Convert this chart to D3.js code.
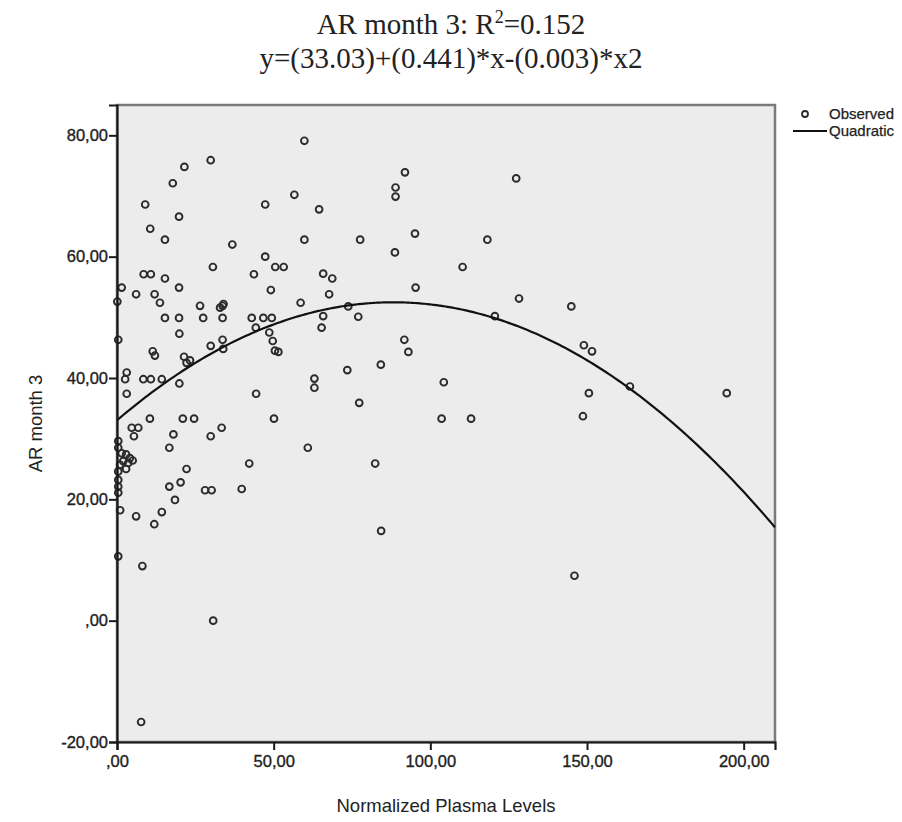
<!DOCTYPE html>
<html>
<head>
<meta charset="utf-8">
<script src="https://cdn.jsdelivr.net/npm/d3@7"></script>
<style>
  html, body { margin: 0; padding: 0; background: #ffffff; }
  svg { display: block; }
</style>
</head>
<body>
<svg id="chart" width="902" height="822"></svg>
<script>
// ---- data ----
const plasmaLevels = [
  59.8, 29.9, 21.5, 17.8, 9.0, 47.3, 56.6, 19.8, 10.6, 15.3,
  59.8, 36.8, 47.3, 30.6, 50.5, 53.2, 8.5, 10.8, 43.7, 15.3,
  1.5, 19.8, 49.1, 6.1, 12.0, 13.7, 0.1, 26.5, 32.9, 33.7,
  34.0, 58.6, 15.3, 19.8, 27.5, 33.7, 43.0, 46.7, 49.4, 44.3,
  48.6, 49.7, 50.4, 51.5, 19.9, 0.4, 33.7, 33.9, 29.9, 11.4,
  12.1, 21.4, 22.2, 23.3, 3.1, 2.6, 8.4, 10.8, 14.3, 19.9,
  44.4, 3.1, 10.5, 21.0, 24.6, 50.1, 4.7, 6.8, 5.4, 33.4,
  18.0, 29.9, 16.7, 60.9, 0.4, 0.4, 1.5, 2.9, 4.1, 5.0,
  2.0, 3.6, 1.0, 2.9, 0.4, 0.4, 0.4, 0.4, 22.2, 42.2,
  16.7, 20.3, 28.1, 30.2, 39.8, 18.5, 1.0, 6.1, 14.3, 11.9,
  0.4, 8.1, 30.7, 7.7, 91.9, 88.9, 88.9, 64.5, 77.6, 95.1,
  118.2, 88.7, 110.3, 65.8, 68.7, 67.7, 95.3, 73.8, 65.8, 77.0,
  120.6, 65.3, 91.7, 93.0, 84.2, 73.5, 63.0, 63.0, 104.3, 77.3,
  103.6, 113.0, 82.4, 84.3, 127.4, 128.3, 145.0, 149.0, 151.6, 163.7,
  150.6, 194.6, 148.7, 146.0
];
const arMonth3 = [
  79.1, 75.9, 74.8, 72.1, 68.6, 68.6, 70.2, 66.6, 64.6, 62.8,
  62.8, 62.0, 60.0, 58.3, 58.3, 58.3, 57.1, 57.1, 57.1, 56.4,
  54.9, 54.9, 54.5, 53.8, 53.8, 52.4, 52.6, 51.9, 51.6, 51.9,
  52.2, 52.4, 49.9, 49.9, 49.9, 49.9, 49.9, 49.9, 49.9, 48.3,
  47.5, 46.1, 44.5, 44.3, 47.3, 46.3, 46.3, 44.8, 45.3, 44.4,
  43.7, 43.5, 42.5, 42.9, 40.9, 39.8, 39.8, 39.8, 39.8, 39.1,
  37.4, 37.4, 33.3, 33.3, 33.3, 33.3, 31.8, 31.8, 30.4, 31.8,
  30.7, 30.4, 28.5, 28.5, 29.6, 28.5, 27.6, 27.4, 26.8, 26.4,
  26.3, 26.0, 25.7, 25.0, 24.6, 23.2, 22.1, 21.1, 25.0, 25.9,
  22.1, 22.8, 21.5, 21.5, 21.7, 19.9, 18.2, 17.2, 17.9, 15.9,
  10.6, 9.0, 0.0, -16.7, 73.9, 71.4, 69.9, 67.8, 62.8, 63.8,
  62.8, 60.7, 58.3, 57.2, 56.4, 53.8, 54.9, 51.8, 50.2, 50.1,
  50.2, 48.3, 46.3, 44.3, 42.2, 41.3, 39.9, 38.4, 39.3, 35.9,
  33.3, 33.3, 25.9, 14.8, 72.9, 53.1, 51.8, 45.4, 44.4, 38.6,
  37.5, 37.5, 33.7, 7.4
];
// quadratic fit: y = b0 + b1*x + b2*x^2
const quadraticCoefficients = [33.03, 0.441, -0.0025];

const xTicks = [0, 50, 100, 150, 200];
const xTickLabels = [",00", "50,00", "100,00", "150,00", "200,00"];
const yTicks = [-20, 0, 20, 40, 60, 80];
const yTickLabels = ["-20,00", ",00", "20,00", "40,00", "60,00", "80,00"];

const titleLines = ["AR month 3: R", "y=(33.03)+(0.441)*x-(0.003)*x2"];
const xTitle = "Normalized Plasma Levels";
const yTitle = "AR month 3";
const legendLabels = ["Observed", "Quadratic"];

// ---- layout ----
const L = 117, R = 775, T = 105, B = 742;
const svg = d3.select("#chart");
const x = d3.scaleLinear().domain([0, 210]).range([L, R]);
const y = d3.scaleLinear().domain([-20, 85]).range([B, T]);
const sans = "'Liberation Sans', Arial, sans-serif";

// plot background & frame
svg.append("rect")
  .attr("x", L).attr("y", T).attr("width", R - L).attr("height", B - T)
  .attr("fill", "#ececec").attr("stroke", "#7a7a7a").attr("stroke-width", 2.5);

// points
const pts = plasmaLevels.map((v, i) => [v, arMonth3[i]]);
svg.append("g").selectAll("circle").data(pts).join("circle")
  .attr("cx", d => x(d[0])).attr("cy", d => y(d[1])).attr("r", 3.4)
  .attr("fill", "none").attr("stroke", "#2b2b2b").attr("stroke-width", 1.9);

// quadratic curve
const [b0, b1, b2] = quadraticCoefficients;
const xs = d3.range(0, 210.001, 1);
const line = d3.line().x(d => x(d)).y(d => y(b0 + b1 * d + b2 * d * d)).curve(d3.curveMonotoneX);
svg.append("path").datum(xs).attr("d", line)
  .attr("fill", "none").attr("stroke", "#111").attr("stroke-width", 2.2);

// axes
const xAxis = d3.axisBottom(x).tickValues(xTicks).tickFormat((d, i) => xTickLabels[i])
  .tickSizeOuter(0).tickSize(8).tickPadding(5);
const gx = svg.append("g").attr("transform", `translate(0,${B})`).call(xAxis);
const yAxis = d3.axisLeft(y).tickValues(yTicks).tickFormat((d, i) => yTickLabels[i])
  .tickSizeOuter(0).tickSize(8).tickPadding(1);
const gy = svg.append("g").attr("transform", `translate(${L},0)`).call(yAxis);
[gx, gy].forEach(g => {
  g.select(".domain").attr("stroke", "#1a1a1a").attr("stroke-width", 2.2);
  g.selectAll(".tick line").attr("stroke", "#1a1a1a").attr("stroke-width", 2);
  g.selectAll(".tick text").attr("fill", "#222").style("font-family", sans)
    .style("font-size", "16.5px").attr("stroke", "#222").attr("stroke-width", 0.35);
});

// axis titles
svg.append("text").attr("x", (L + R) / 2).attr("y", 812).attr("text-anchor", "middle")
  .style("font-family", sans).style("font-size", "18.5px").attr("fill", "#222").text(xTitle);
svg.append("text").attr("transform", `translate(42,${(T + B) / 2}) rotate(-90)`)
  .attr("text-anchor", "middle")
  .style("font-family", sans).style("font-size", "18.5px").attr("fill", "#222").text(yTitle);

// title (serif)
const serif = "'Liberation Serif', 'Times New Roman', serif";
const t1 = svg.append("text").attr("x", 451).attr("y", 34).attr("text-anchor", "middle")
  .style("font-family", serif).style("font-size", "29px").attr("fill", "#222");
t1.append("tspan").text(titleLines[0]);
t1.append("tspan").attr("dy", -11).style("font-size", "18px").text("2");
t1.append("tspan").attr("dy", 11).text("=0.152");
svg.append("text").attr("x", 451).attr("y", 68).attr("text-anchor", "middle")
  .style("font-family", serif).style("font-size", "29px").attr("fill", "#222").text(titleLines[1]);

// legend
const lg = svg.append("g");
lg.append("circle").attr("cx", 805).attr("cy", 114).attr("r", 3)
  .attr("fill", "none").attr("stroke", "#2b2b2b").attr("stroke-width", 1.8);
lg.append("line").attr("x1", 793).attr("x2", 827).attr("y1", 131).attr("y2", 131)
  .attr("stroke", "#111").attr("stroke-width", 2);
lg.selectAll("text.lg").data(legendLabels).join("text").attr("class", "lg")
  .attr("x", 829).attr("y", (d, i) => 119 + i * 17)
  .style("font-family", sans).style("font-size", "15px").attr("fill", "#222")
  .attr("stroke", "#222").attr("stroke-width", 0.25).text(d => d);
</script>
</body>
</html>
